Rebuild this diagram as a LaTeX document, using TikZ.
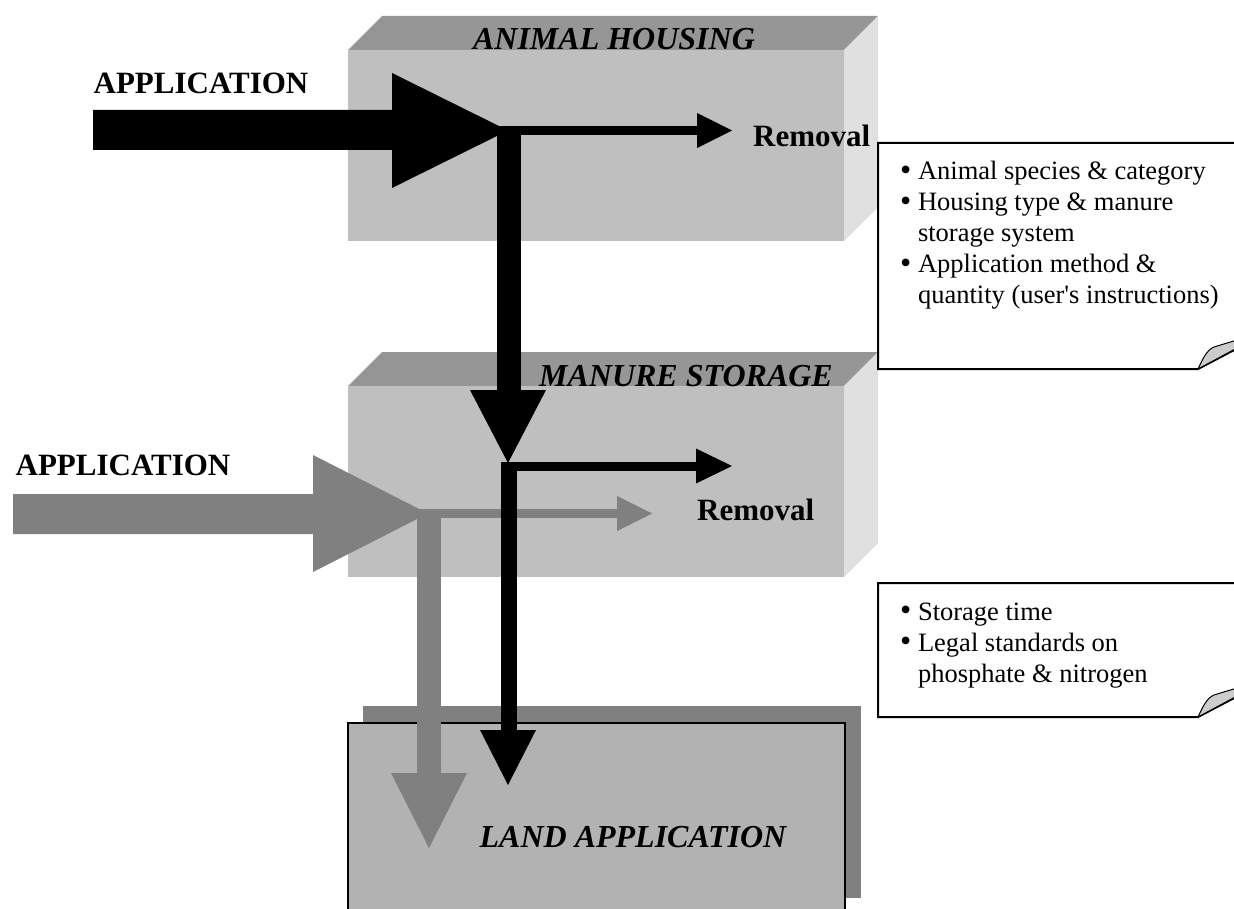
\documentclass[tikz,border=0pt]{standalone}
\usepackage{fontspec}
\setmainfont{Liberation Serif}
\usepackage{tikz}
\definecolor{boxfront}{gray}{0.75}
\definecolor{boxtop}{gray}{0.59}
\definecolor{boxside}{gray}{0.88}
\definecolor{flowgray}{gray}{0.5}
\definecolor{landfront}{gray}{0.70}
\definecolor{curlgray}{gray}{0.80}
\newcommand{\nb}{{\fontsize{32}{31}\selectfont\raisebox{-0.5pt}{\textbullet}}\ }

\begin{document}
\begin{tikzpicture}[x=1pt,y=-1pt,
lbl/.style={font=\fontsize{31}{36}\selectfont\bfseries,inner sep=0pt,anchor=base},
ttl/.style={font=\fontsize{32}{38}\selectfont\bfseries\itshape,inner sep=0pt,anchor=base},
note/.style={font=\fontsize{26.5}{31}\selectfont,inner sep=0pt,anchor=base west},
notebox/.style={line width=2pt,fill=white}]
\useasboundingbox (0,0) rectangle (1234,909);

\foreach \y/\tx/\name/\txt in {16/614/housing/ANIMAL HOUSING,352/686/storage/MANURE STORAGE} {
\fill[boxtop] (348,\y+34) -- (382,\y) -- (878,\y) -- (844,\y+34) -- cycle;
\fill[boxside] (844,\y+34) -- (878,\y) -- (878,\y+191) -- (844,\y+225) -- cycle;
\fill[boxfront] (348,\y+34) rectangle (844,\y+225);
\node[ttl] (\name) at (\tx,\y+34) {\txt};
}

\fill[flowgray] (363,706) rectangle (861,898);
\draw[fill=landfront,line width=1.5pt] (348,723) rectangle (845,920);
\node[ttl] (land) at (633,847) {LAND APPLICATION};

\draw[notebox] (878,143) -- (1238,143) -- (1238,348) -- (1198,369) -- (878,369) -- cycle;
\draw[fill=curlgray,line width=1pt] (1198,369) .. controls (1203,358) and (1207,350) .. (1214,347) -- (1237,340) -- (1237,348) -- cycle;
\node[note] (note1) at (900,180) {\begin{tabular}[t]{@{}l@{}}
\nb Animal species \& category\\
\nb Housing type \& manure\\
\phantom{\nb}storage system\\
\nb Application method \&\\
\phantom{\nb}quantity (user\textquotesingle s instructions)
\end{tabular}};

\draw[notebox] (878,583) -- (1238,583) -- (1238,696) -- (1198,717) -- (878,717) -- cycle;
\draw[fill=curlgray,line width=1pt] (1198,717) .. controls (1203,706) and (1207,698) .. (1214,695) -- (1237,688) -- (1237,696) -- cycle;
\node[note] (note2) at (900,620) {\begin{tabular}[t]{@{}l@{}}
\nb Storage time\\
\nb Legal standards on\\
\phantom{\nb}phosphate \& nitrogen
\end{tabular}};

\node[lbl] (app1) at (201,94) {APPLICATION};
\node[lbl] (app2) at (123,475) {APPLICATION};
\node[lbl,anchor=base west] (rem1) at (753,147) {Removal};
\node[lbl,anchor=base west] (rem2) at (697,520) {Removal};

\fill[flowgray] (13,494) -- (313,494) -- (313,455) -- (428,513.5) -- (313,572) -- (313,534) -- (13,534) -- cycle;
\fill[flowgray] (428,509) rectangle (617,518);
\fill[flowgray] (617,496) -- (652,513.5) -- (617,531) -- cycle;
\fill[flowgray] (417,509) rectangle (441,773);
\fill[flowgray] (391,773) -- (429,848) -- (467,773) -- cycle;

\fill (93,110) -- (392,110) -- (392,73) -- (508,130.5) -- (392,188) -- (392,150) -- (93,150) -- cycle;
\fill (508,126) rectangle (697,135);
\fill (697,113) -- (732,130.5) -- (697,148) -- cycle;
\fill (497,126) rectangle (521,390);
\fill (470,390) -- (546,390) -- (508,463) -- cycle;
\fill (508,461.5) rectangle (696,470.5);
\fill (696,448.5) -- (732,466) -- (696,483.5) -- cycle;
\fill (501,462) rectangle (517,730);
\fill (480,730) -- (536,730) -- (508,785) -- cycle;

\end{tikzpicture}
\end{document}
